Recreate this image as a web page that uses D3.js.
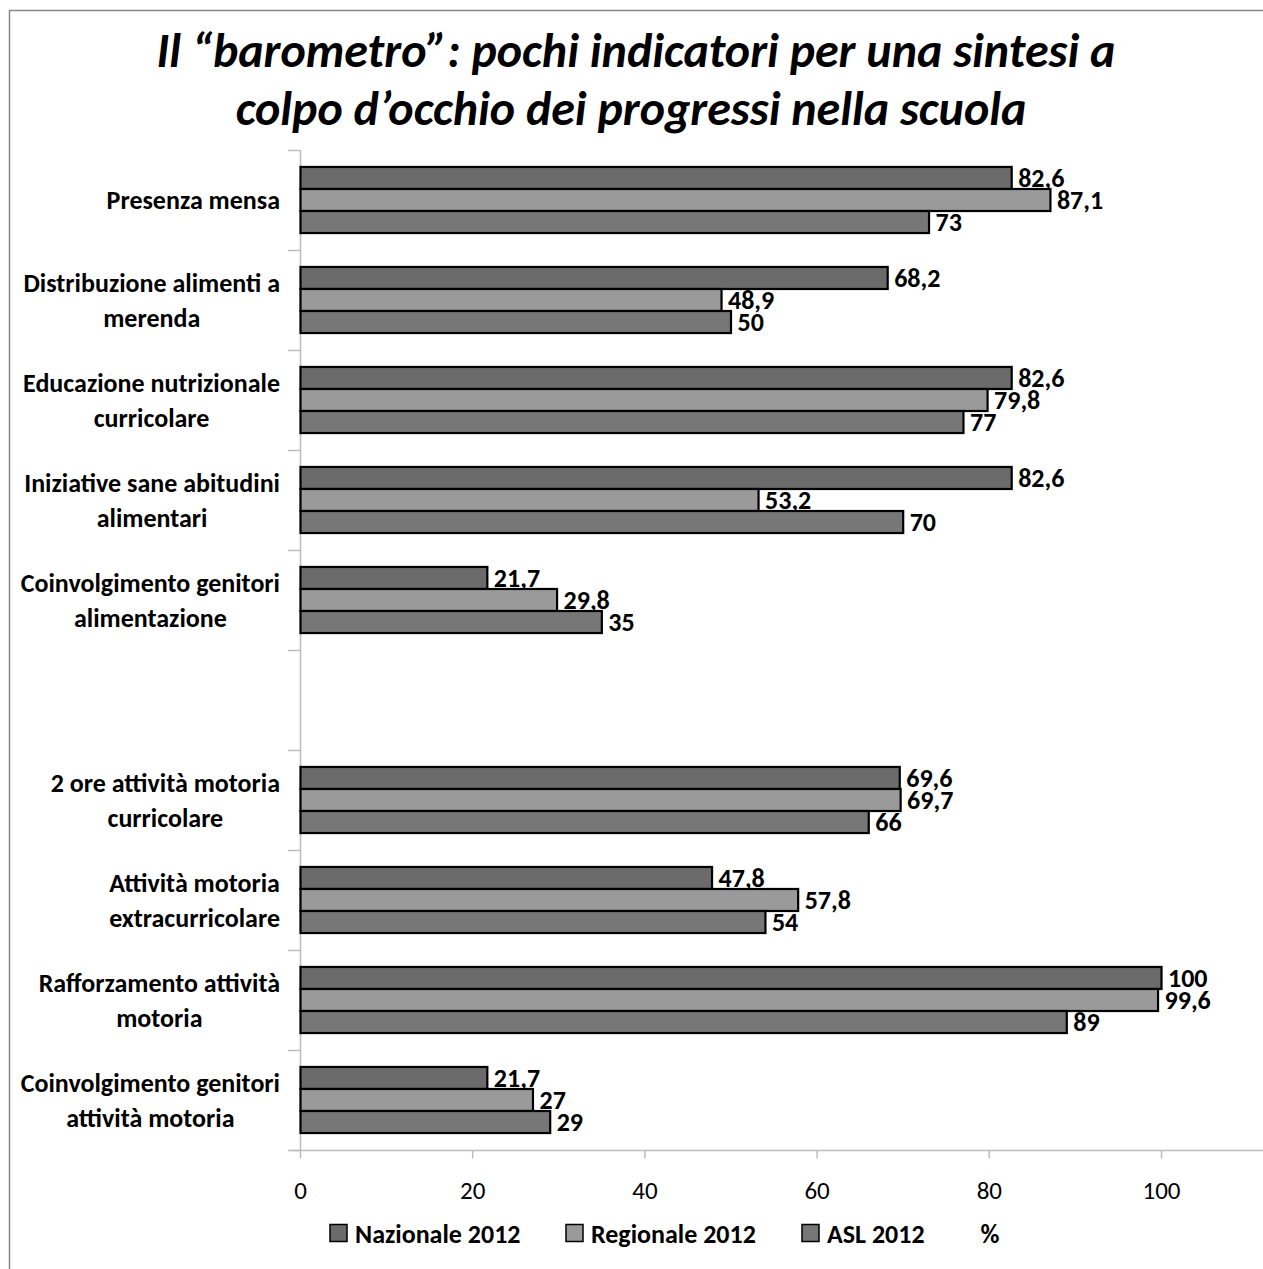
<!DOCTYPE html>
<html><head><meta charset="utf-8">
<script src="https://cdn.jsdelivr.net/npm/d3@7"></script>
<style>
html,body{margin:0;padding:0;background:#fff;}
svg{display:block;}
text{font-family:Carlito, Calibri, Lato, "Open Sans", sans-serif;}
</style></head>
<body>
<svg id="chart" width="1263" height="1269"></svg>
<script>
const categories = [
  ["Presenza mensa"],
  ["Distribuzione alimenti a","merenda"],
  ["Educazione nutrizionale","curricolare"],
  ["Iniziative sane abitudini","alimentari"],
  ["Coinvolgimento genitori","alimentazione"],
  [""],
  ["2 ore attività motoria","curricolare"],
  ["Attività motoria","extracurricolare"],
  ["Rafforzamento attività","motoria"],
  ["Coinvolgimento genitori","attività motoria"]
];
const seriesNames = ["Nazionale 2012","Regionale 2012","ASL 2012"];
const nazionale = [82.6, 68.2, 82.6, 82.6, 21.7, null, 69.6, 47.8, 100, 21.7];
const regionale = [87.1, 48.9, 79.8, 53.2, 29.8, null, 69.7, 57.8, 99.6, 27];
const asl       = [73, 50, 77, 70, 35, null, 66, 54, 89, 29];
const xTicks = [0,20,40,60,80,100];
const titleLines = ["Il \u201cbarometro\u201d: pochi indicatori per una sintesi a","colpo d\u2019occhio dei progressi nella scuola"];
const colors = ["#6b6b6b","#9a9a9a","#777777"];

const svg = d3.select("#chart");
const seriesVals = [nazionale, regionale, asl];

// frame
svg.append("path").attr("d","M9.5,1269 L9.5,10.5 L1263,10.5").attr("fill","none").attr("stroke","#888").attr("stroke-width",1.5);

// title
svg.append("g").selectAll("text").data(titleLines).join("text")
  .attr("x",(d,i)=>i===0?636:631).attr("y",(d,i)=>67+i*58)
  .attr("text-anchor","middle")
  .attr("font-size",48).attr("font-weight","bold").attr("font-style","italic")
  .attr("fill","#000")
  .text(d=>d);

const x = d3.scaleLinear().domain([0,100]).range([300,1161]);
const idx = d3.range(categories.length);
const y = d3.scaleBand().domain(idx).range([150,1150]).paddingInner(0).paddingOuter(0);
const yInner = d3.scaleBand().domain([0,1,2]).range([0,y.bandwidth()]).paddingOuter(0.77).paddingInner(0);

// y axis line and ticks
const axisColor = "#bdbdbd";
svg.append("line").attr("x1",300.5).attr("x2",300.5).attr("y1",150).attr("y2",1150).attr("stroke",axisColor).attr("stroke-width",1.5);
svg.append("g").selectAll("line").data(d3.range(categories.length+1)).join("line")
  .attr("x1",288).attr("x2",300)
  .attr("y1",d=>150+d*y.bandwidth()+0.5).attr("y2",d=>150+d*y.bandwidth()+0.5)
  .attr("stroke",axisColor).attr("stroke-width",1.5);

// x axis
const xAxis = d3.axisBottom(x).tickValues(xTicks).tickSize(8).tickPadding(23).tickFormat(d3.format("d"));
const gx = svg.append("g").attr("transform","translate(0,1150.5)").call(xAxis);
gx.select(".domain").remove();
gx.append("line").attr("x1",292).attr("x2",1263).attr("y1",0).attr("y2",0).attr("stroke",axisColor).attr("stroke-width",1.5);
gx.selectAll(".tick line").attr("stroke",axisColor).attr("stroke-width",1.5);
gx.selectAll(".tick text").attr("font-size",25).attr("fill","#000").attr("font-family",null);

// bars
const fmt = v => String(v).replace(".",",");
const barG = svg.append("g");
seriesVals.forEach((vals,s)=>{
  const data = idx.filter(i=>vals[i]!=null).map(i=>({i, v:vals[i]}));
  barG.selectAll(null).data(data).join("rect")
    .attr("x",x(0)+0.5)
    .attr("y",d=>y(d.i)+yInner(s))
    .attr("width",d=>x(d.v)-x(0))
    .attr("height",yInner.bandwidth())
    .attr("fill",colors[s]).attr("stroke","#000").attr("stroke-width",2.2);
  barG.selectAll(null).data(data).join("text")
    .attr("x",d=>x(d.v)+7)
    .attr("y",d=>y(d.i)+yInner(s)+yInner.bandwidth()/2)
    .attr("dy","0.36em")
    .attr("font-size",26).attr("font-weight","bold").attr("fill","#000")
    .text(d=>fmt(d.v));
});

// category labels
const labG = svg.append("g");
categories.forEach((lines,i)=>{
  if(!lines[0]) return;
  const g = labG.append("g");
  const cy = y(i)+y.bandwidth()/2;
  const lh = 35;
  const texts = lines.map((t,k)=> g.append("text")
      .attr("y", cy + (k-(lines.length-1)/2)*lh)
      .attr("dy","0.36em")
      .attr("font-size",26).attr("font-weight","bold").attr("fill","#000")
      .attr("text-anchor","middle").text(t));
  const widths = texts.map(t=>t.node().getComputedTextLength());
  const maxW = d3.max(widths);
  texts.forEach(t=>t.attr("x",280-maxW/2));
});

// legend
const legendItems = seriesNames.map((n,s)=>({n,c:colors[s]}));
const legX = [330,566,802];
const legG = svg.append("g");
legendItems.forEach((d,s)=>{
  legG.append("rect").attr("x",legX[s]).attr("y",1224.5).attr("width",17).attr("height",17)
    .attr("fill",d.c).attr("stroke","#000").attr("stroke-width",1.5);
  legG.append("text").attr("x",legX[s]+25).attr("y",1234).attr("dy","0.36em")
    .attr("font-size",26).attr("font-weight","bold").attr("fill","#000").text(d.n);
});
legG.append("text").attr("x",990).attr("y",1234).attr("dy","0.36em").attr("text-anchor","middle")
  .attr("font-size",26).attr("font-weight","bold").attr("fill","#000").text("%");
</script>
</body></html>
